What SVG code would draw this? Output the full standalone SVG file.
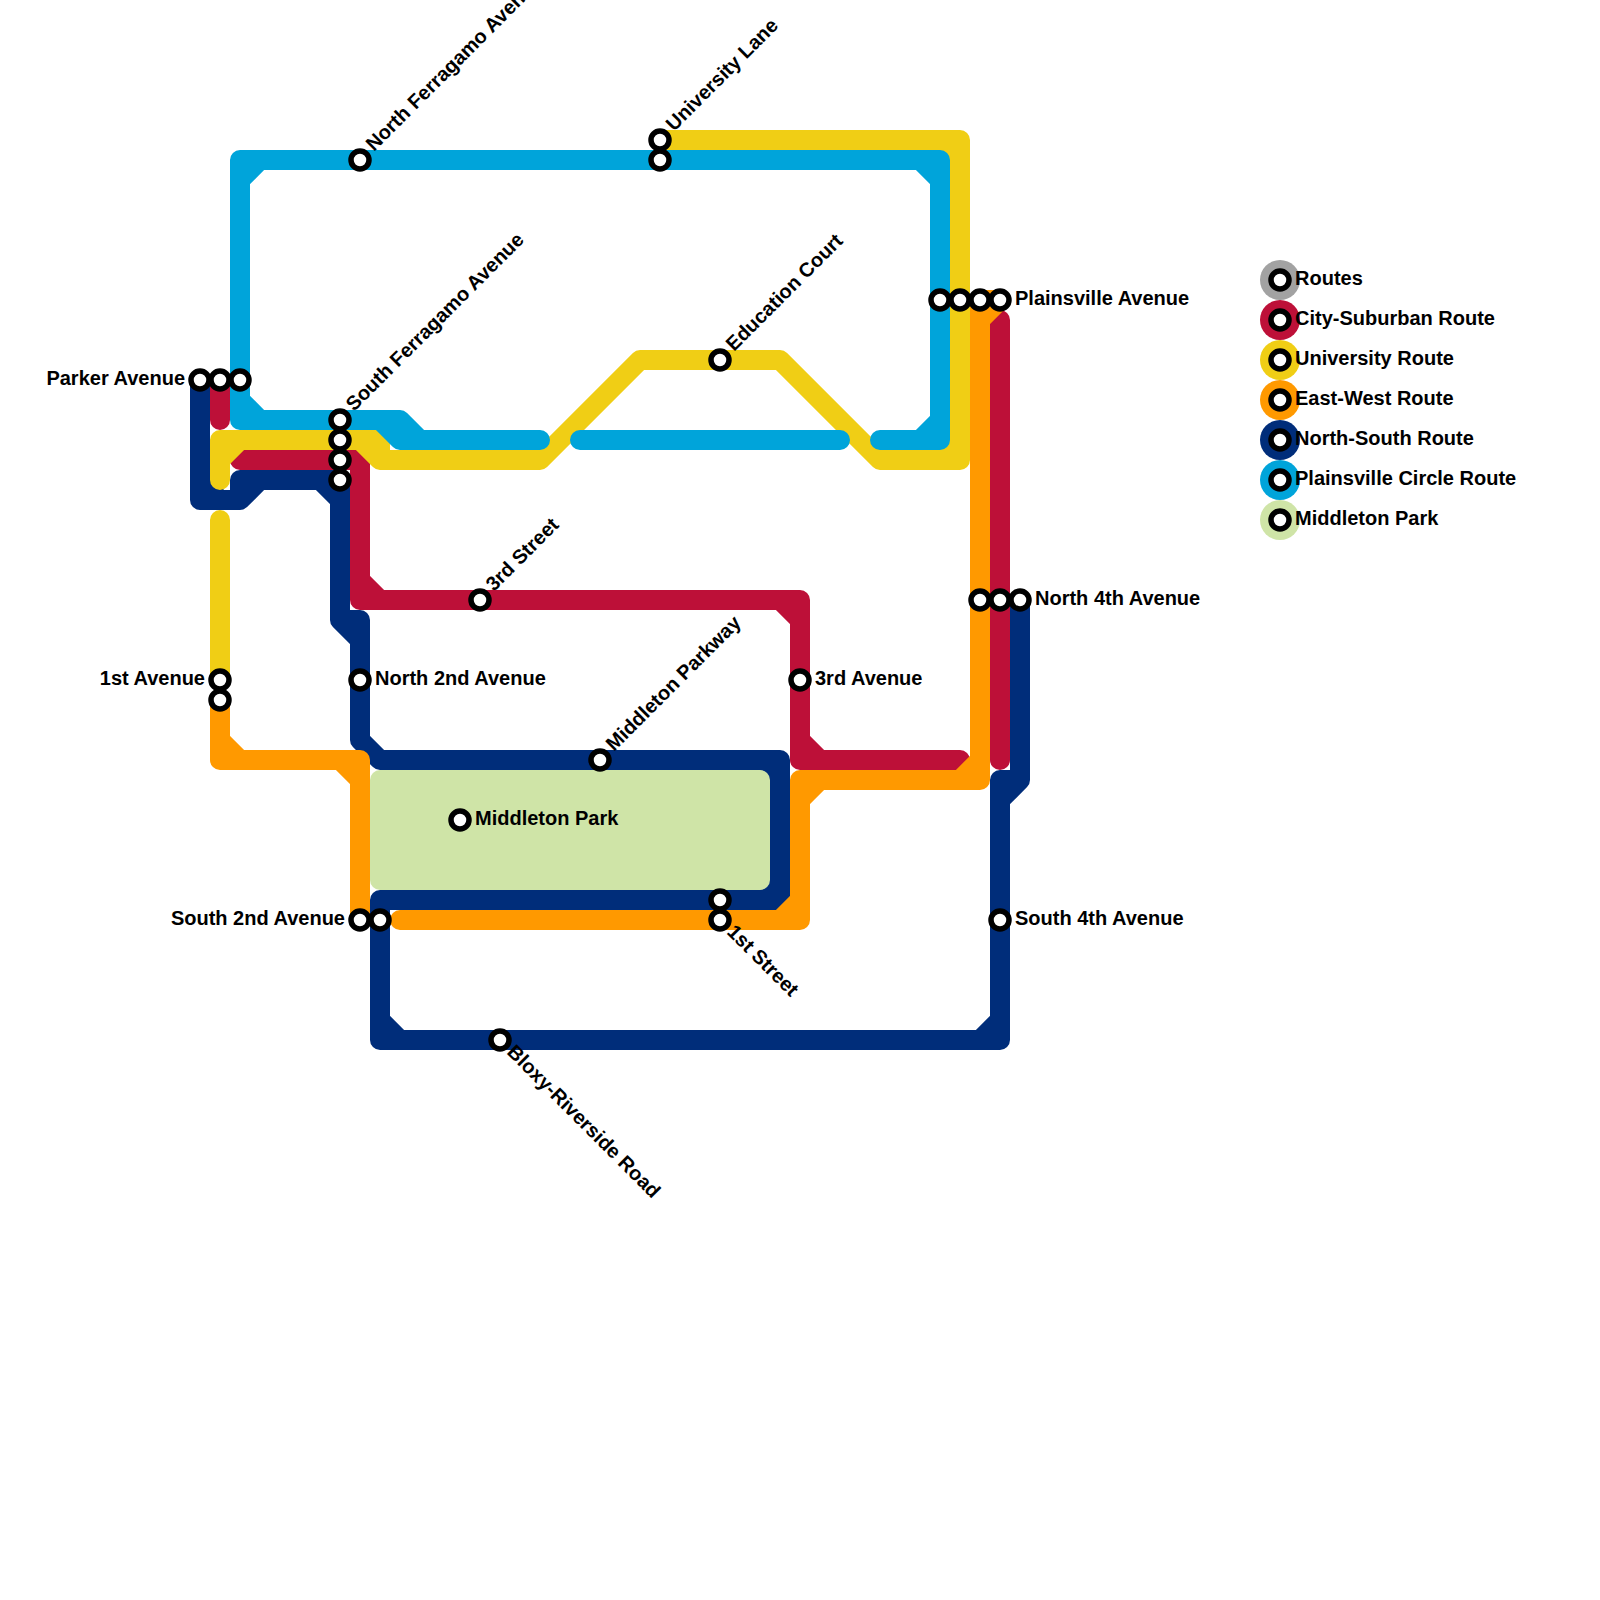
<svg xmlns="http://www.w3.org/2000/svg" width="1600" height="1600" viewBox="0 0 1600 1600">
<style>
text{font-family:"Liberation Sans",Arial,sans-serif;font-weight:700;font-size:20px;fill:#000}
.end{text-anchor:end}
.r{fill:none;stroke-width:20;stroke-linecap:round;stroke-linejoin:round}
.navy{stroke:#002d7a}.red{stroke:#bd1038}.yellow{stroke:#f0ce15}.orange{stroke:#ff9900}.blue{stroke:#00a4da}
.st{fill:#fff;stroke:#000;stroke-width:5.5}
</style>
<rect width="1600" height="1600" fill="#fff"/>
<g id="connectors">
<path id="route-north-south" class="r navy" d="M200 380V500H240V480H340V620H360V740L380 760H780V900H380V1040H1000V780H1020V600M200 480L220 500M240 500L260 480M320 480L340 500M340 620L360 640M380 1020L400 1040M980 1040L1000 1020M1020 780L1000 800M760 760L780 780M760 900L780 880"/>
<rect id="middleton-park-area" x="370" y="770" width="400" height="120" rx="10" fill="#cfe4a7"/>
<path id="route-city-suburban" class="r red" d="M220 380V420M240 460H360V600H800V760H960M360 580L380 600M780 600L800 620M800 740L820 760M1000 320V760"/>
<path id="route-university" class="r yellow" d="M220 480V440H380V460H540L640 360H780L880 460H960V140H660M220 460L240 440M360 440L380 460M220 520V680M940 140L960 160M940 460L960 440"/>
<path id="route-east-west" class="r orange" d="M220 700V760H360V920M220 740L240 760M340 760L360 780M1000 300H980V780H800V920H400M980 320L1000 300M960 780L980 760M800 800L820 780M780 920L800 900"/>
<path id="route-plainsville-circle" class="r blue" d="M540 440H400L380 420H240V160H940V440H880M400 420L420 440H400V420H380M240 180L260 160M240 400L260 420M920 160L940 180M920 440L940 420M580 440H840"/>
</g>
<g id="parker-avenue"><circle class="st" cx="200" cy="380" r="9"/><circle class="st" cx="220" cy="380" r="9"/><circle class="st" cx="240" cy="380" r="9"/><text class="end" x="185" y="385">Parker Avenue</text></g>
<g id="north-ferragamo-avenue"><circle class="st" cx="360" cy="160" r="9"/><text transform="translate(374 152) rotate(-45)">North Ferragamo Avenue</text></g>
<g id="university-lane"><circle class="st" cx="660" cy="140" r="9"/><circle class="st" cx="660" cy="160" r="9"/><text transform="translate(674 132) rotate(-45)">University Lane</text></g>
<g id="south-ferragamo-avenue"><circle class="st" cx="340" cy="420" r="9"/><circle class="st" cx="340" cy="440" r="9"/><circle class="st" cx="340" cy="460" r="9"/><circle class="st" cx="340" cy="480" r="9"/><text transform="translate(354 412) rotate(-45)">South Ferragamo Avenue</text></g>
<g id="education-court"><circle class="st" cx="720" cy="360" r="9"/><text transform="translate(734 352) rotate(-45)">Education Court</text></g>
<g id="third-street"><circle class="st" cx="480" cy="600" r="9"/><text transform="translate(494 592) rotate(-45)">3rd Street</text></g>
<g id="first-avenue"><circle class="st" cx="220" cy="680" r="9"/><circle class="st" cx="220" cy="700" r="9"/><text class="end" x="205" y="685">1st Avenue</text></g>
<g id="north-second-avenue"><circle class="st" cx="360" cy="680" r="9"/><text x="375" y="685">North 2nd Avenue</text></g>
<g id="third-avenue"><circle class="st" cx="800" cy="680" r="9"/><text x="815" y="685">3rd Avenue</text></g>
<g id="middleton-parkway"><circle class="st" cx="600" cy="760" r="9"/><text transform="translate(614 752) rotate(-45)">Middleton Parkway</text></g>
<g id="middleton-park"><circle class="st" cx="460" cy="820" r="9"/><text x="475" y="825">Middleton Park</text></g>
<g id="first-street"><circle class="st" cx="720" cy="900" r="9"/><circle class="st" cx="720" cy="920" r="9"/><text transform="translate(726 933) rotate(45)">1st Street</text></g>
<g id="south-second-avenue"><circle class="st" cx="360" cy="920" r="9"/><circle class="st" cx="380" cy="920" r="9"/><text class="end" x="345" y="925">South 2nd Avenue</text></g>
<g id="bloxy-riverside-road"><circle class="st" cx="500" cy="1040" r="9"/><text transform="translate(506 1053) rotate(45)">Bloxy-Riverside Road</text></g>
<g id="south-fourth-avenue"><circle class="st" cx="1000" cy="920" r="9"/><text x="1015" y="925">South 4th Avenue</text></g>
<g id="north-fourth-avenue"><circle class="st" cx="980" cy="600" r="9"/><circle class="st" cx="1000" cy="600" r="9"/><circle class="st" cx="1020" cy="600" r="9"/><text x="1035" y="605">North 4th Avenue</text></g>
<g id="plainsville-avenue"><circle class="st" cx="940" cy="300" r="9"/><circle class="st" cx="960" cy="300" r="9"/><circle class="st" cx="980" cy="300" r="9"/><circle class="st" cx="1000" cy="300" r="9"/><text x="1015" y="305">Plainsville Avenue</text></g>
<g id="legend">
<g id="legend-routes"><circle cx="1280" cy="280" r="20" fill="#a2a2a2"/><circle class="st" cx="1280" cy="280" r="9"/><text x="1295" y="285">Routes</text></g>
<g id="legend-city-suburban"><circle cx="1280" cy="320" r="20" fill="#bd1038"/><circle class="st" cx="1280" cy="320" r="9"/><text x="1295" y="325">City-Suburban Route</text></g>
<g id="legend-university"><circle cx="1280" cy="360" r="20" fill="#f0ce15"/><circle class="st" cx="1280" cy="360" r="9"/><text x="1295" y="365">University Route</text></g>
<g id="legend-east-west"><circle cx="1280" cy="400" r="20" fill="#ff9900"/><circle class="st" cx="1280" cy="400" r="9"/><text x="1295" y="405">East-West Route</text></g>
<g id="legend-north-south"><circle cx="1280" cy="440" r="20" fill="#002d7a"/><circle class="st" cx="1280" cy="440" r="9"/><text x="1295" y="445">North-South Route</text></g>
<g id="legend-plainsville-circle"><circle cx="1280" cy="480" r="20" fill="#00a4da"/><circle class="st" cx="1280" cy="480" r="9"/><text x="1295" y="485">Plainsville Circle Route</text></g>
<g id="legend-middleton-park"><circle cx="1280" cy="520" r="20" fill="#cfe4a7"/><circle class="st" cx="1280" cy="520" r="9"/><text x="1295" y="525">Middleton Park</text></g>
</g>
</svg>
